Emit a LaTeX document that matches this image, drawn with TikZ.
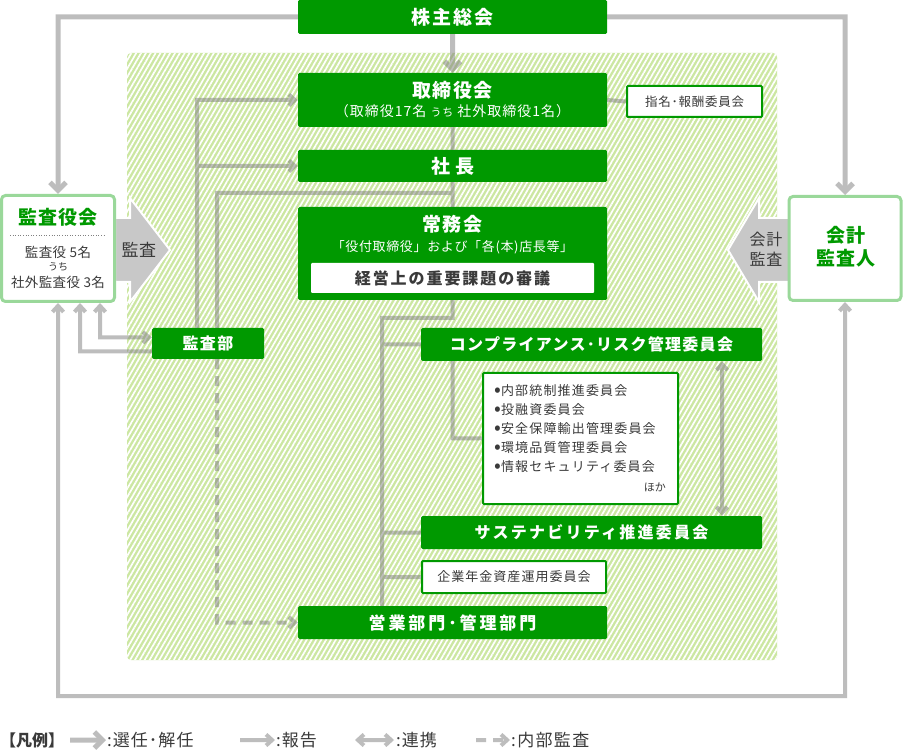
\documentclass[tikz,border=0pt]{standalone}
\usepackage{fontspec}
\setmainfont{Noto Sans CJK JP}
\usetikzlibrary{arrows.meta,patterns.meta}
\definecolor{gr}{HTML}{009900}
\definecolor{lgr}{HTML}{9AD89A}
\definecolor{hatchc}{HTML}{CCE7A2}
\definecolor{ln}{HTML}{7D7D7D}
\definecolor{bigar}{HTML}{C8C8C8}
\definecolor{txt}{HTML}{3A3A3A}
\newcommand{\lsp}[1]{\addfontfeature{LetterSpace=#1}}
\newcommand{\bul}{\raisebox{-1pt}{\fontsize{20}{13}\selectfont •}}
\tikzset{
  fs/.style={font=\fontsize{#1}{#1}\selectfont},
  bfs/.style={font=\bfseries\fontsize{#1}{#1}\selectfont},
  gbox/.style={fill=gr, inner sep=0pt, rounded corners=1.5pt},
  wbox/.style={fill=white, draw=gr, line width=2pt, inner sep=0pt, rounded corners=1pt},
  abox/.style={fill=white, draw=lgr, line width=3pt, rounded corners=4pt, inner sep=0pt},
  lbl/.style={inner sep=0pt},
  wt/.style={lbl, text=white},
  gt/.style={lbl, text=txt},
  senin/.style={draw=ln, line width=5pt, -{Straight Barb[length=8pt,width=16pt]}},
  hokoku/.style={draw=ln, line width=4pt, -{Straight Barb[length=6pt,width=11pt]}},
  renkei/.style={draw=ln, line width=4pt, {Straight Barb[length=6pt,width=11pt]}-{Straight Barb[length=6pt,width=11pt]}},
  lnk/.style={draw=ln, line width=4pt},
  naibu/.style={draw=ln, line width=4pt, dash pattern=on 10pt off 7pt, -{Straight Barb[length=6pt,width=11pt]}},
  bigarrow/.style={fill=bigar, draw=white, line width=2pt, line join=miter},
}
\begin{document}
\begin{tikzpicture}[x=1pt,y=-1pt]
\useasboundingbox (0,0) rectangle (903,751);
\fill[white] (0,0) rectangle (903,751);
% hatched background
\fill[hatchc, rounded corners=4pt] (127,53) rectangle (777,660);
\fill[pattern={Lines[angle=60,distance=4.2pt,line width=1.7pt]}, pattern color=white, rounded corners=4pt] (127,53) rectangle (777,660);

% big arrows
\draw[bigarrow] (115,218) -- (130,218) -- (130,198) -- (170,250) -- (130,302) -- (130,282) -- (115,282) -- cycle;
\draw[bigarrow] (790,218) -- (759,218) -- (759,198) -- (728,250) -- (759,302) -- (759,282) -- (790,282) -- cycle;

% boxes
\node[gbox, minimum width=309pt, minimum height=34pt] (sh) at (452.5,17) {};
\node[gbox, minimum width=309pt, minimum height=54pt] (tori) at (452.5,100) {};
\node[wbox, minimum width=135pt, minimum height=31pt] (shimei) at (694.5,101.5) {};
\node[gbox, minimum width=309pt, minimum height=32pt] (shacho) at (452.5,166) {};
\node[gbox, minimum width=309pt, minimum height=93pt] (jomu) at (452.5,253.5) {};
\node[fill=white, inner sep=0pt, rounded corners=1pt, minimum width=283pt, minimum height=30pt] (jomuin) at (452.5,278) {};
\node[abox, minimum width=113pt, minimum height=106pt] (kansa) at (58,248.5) {};
\node[abox, minimum width=112pt, minimum height=104pt] (kaikei) at (845,248.5) {};
\node[gbox, minimum width=112pt, minimum height=31pt] (kbu) at (208,343.5) {};
\node[gbox, minimum width=341pt, minimum height=33pt] (comp) at (591.5,344.5) {};
\node[wbox, minimum width=195pt, minimum height=131pt] (list) at (580.5,438.5) {};
\node[gbox, minimum width=341pt, minimum height=33pt] (sus) at (591.5,532.5) {};
\node[wbox, minimum width=184pt, minimum height=32pt] (nenkin) at (514,577) {};
\node[gbox, minimum width=309pt, minimum height=33pt] (eigyo) at (452.5,622.5) {};

% connectors (semi-transparent gray)
\coordinate (t1) at (382,318);
\coordinate (x722) at (722,0);
\coordinate (j1) at (197,166);
\coordinate (c193) at (452.5,193);
\coordinate (b1) at (58,696);
\begin{scope}[transparency group, opacity=0.5]
\draw[senin] (sh.west) -| (kansa.north);
\draw[senin] (sh.east) -| (kaikei.north);
\draw[senin] (sh.south) -- (tori.north);
\draw[lnk] (tori.south) -- (shacho.north);
\draw[lnk] (shacho.south) -- (jomu.north);
\draw[lnk] (jomu.south) |- (t1) -- (t1 |- eigyo.north);
\draw[lnk] (t1 |- comp.west) -- (comp.west);
\draw[lnk] (t1 |- sus.west) -- (sus.west);
\draw[lnk] (t1 |- nenkin.west) -- (nenkin.west);
\draw[lnk] (comp.south -| jomu.south) |- (list.west);
\draw[renkei] (comp.south -| x722) -- (sus.north -| x722);
\draw[lnk] (tori.east) -- (shimei.west);
\draw[hokoku] ([xshift=-11pt]kbu.north) |- (tori.west);
\draw[hokoku] (j1) -- (shacho.west);
\draw[lnk] ([xshift=9pt]kbu.north) |- (c193);
\draw[naibu] ([xshift=9pt]kbu.south) |- (eigyo.west);
\draw[hokoku] ([yshift=-8pt]kbu.west) -| ([xshift=22pt]kansa.south);
\draw[renkei] ([xshift=42pt]kansa.south) |- ([yshift=6pt]kbu.west);
\draw[renkei] (kansa.south) -- (kansa.south |- b1) -| (kaikei.south);
\end{scope}

% texts
\node[wt, bfs=19] (shT) at (452.5,17) {\lsp{12}株主総会};
\node[wt, bfs=19] (toriT) at (452.5,90) {\lsp{8}取締役会};
\node[wt, fs=14] (toriS) at (452.5,111) {\lsp{7}（取締役17名 {\fontsize{11}{11}\selectfont うち} 社外取締役1名）};
\node[gt, fs=12.5] (shimeiT) at (694.5,101.5) {\lsp{6}指名･報酬委員会};
\node[wt, bfs=19] (shachoT) at (452.5,166) {社\hspace{5pt}長};
\node[wt, bfs=19] (jomuT) at (452.5,224) {\lsp{8}常務会};
\node[wt, fs=13] (jomuS) at (452.5,247) {\lsp{5}「役付取締役」および「各(本)店長等」};
\node[gt, bfs=16] (jomuinT) at (452.5,278) {\lsp{12}経営上の重要課題の審議};
\node[lbl, text=gr, bfs=19] (kansaT) at (58,217) {\lsp{4}監査役会};
\draw[gray, dotted, line width=0.6pt] (10,235) -- (105,235);
\node[gt, fs=13.5] (kansa1) at (58,252) {\lsp{3}監査役 5名};
\node[gt, fs=10] (kansa2) at (58,267) {うち};
\node[gt, fs=13.5] (kansa3) at (58,282) {\lsp{3}社外監査役 3名};
\node[gt, fs=17] (kansaA) at (139,250) {\lsp{3}監査};
\node[lbl, text=gr, bfs=19, align=center] (kaikeiT) at (846,247) {\lsp{5}会計\\[4pt]\lsp{5}監査人};
\node[gt, fs=16, align=center] (kaikeiA) at (766,249) {\lsp{6}会計\\[4pt]\lsp{6}監査};
\node[wt, bfs=16] (kbuT) at (208,343.5) {\lsp{8}監査部};
\node[wt, bfs=16] (compT) at (591.5,344.5) {\lsp{8}コンプライアンス･リスク管理委員会};
\foreach \t [count=\i] in {内部統制推進委員会,投融資委員会,安全保障輸出管理委員会,環境品質管理委員会,情報セキュリティ委員会}{
  \node[gt, fs=13, anchor=west] (li\i) at (494,372+18.9*\i) {\bul\lsp{9}\t};
}
\node[gt, fs=11, anchor=east] (hoka) at (666,487) {ほか};
\node[wt, bfs=16] (susT) at (591.5,532.5) {\lsp{14}サステナビリティ推進委員会};
\node[gt, fs=13] (nenkinT) at (514,577) {\lsp{8}企業年金資産運用委員会};
\node[wt, bfs=17] (eigyoT) at (452.5,622.5) {\lsp{17}営業部門･管理部門};

% legend
\node[gt, bfs=16, anchor=west] (lg) at (0,740) {【凡例】};
\coordinate (la1) at (70,740); \coordinate (lb1) at (106,740);
\coordinate (la2) at (240,740); \coordinate (lb2) at (275,740);
\coordinate (la3) at (355,740); \coordinate (lb3) at (394,740);
\coordinate (la4) at (476,740); \coordinate (lb4) at (510,740);
\begin{scope}[transparency group, opacity=0.5]
\draw[senin] (la1) -- (lb1);
\draw[hokoku] (la2) -- (lb2);
\draw[renkei] (la3) -- (lb3);
\draw[naibu] (la4) -- (lb4);
\end{scope}
\node[gt, fs=17, anchor=west] (lt1) at (107,740) {\lsp{6}:選任･解任};
\node[gt, fs=17, anchor=west] (lt2) at (276,740) {\lsp{6}:報告};
\node[gt, fs=17, anchor=west] (lt3) at (396,740) {\lsp{6}:連携};
\node[gt, fs=17, anchor=west] (lt4) at (511,740) {\lsp{8}:内部監査};
\end{tikzpicture}
\end{document}
